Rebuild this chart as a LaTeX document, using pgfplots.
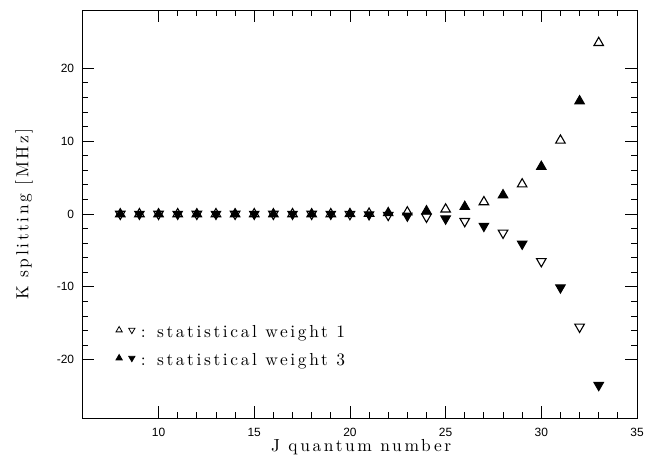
\documentclass[border=0pt]{standalone}
\usepackage{fontspec}
\newfontfamily\tickfont{Liberation Sans}
% labels: serif, widely spaced like the old plotter lettering
\newfontfamily\lblfam{lmroman10-regular}[Extension=.otf, LetterSpace=15]
\usepackage{pgfplots}
\pgfplotsset{compat=1.18}

\newcommand\lblfont{\lblfam\fontsize{17.5}{20}\selectfont}

\begin{document}
\begin{tikzpicture}
\useasboundingbox (-82bp,-48bp) rectangle (563bp,418bp);
\begin{axis}[
    scale only axis,
    width=555bp, height=408bp,
    xmin=6, xmax=35,
    ymin=-28, ymax=28,
    xtick={10,15,20,25,30,35},
    ytick={-20,-10,0,10,20},
    minor x tick num=4,
    minor y tick num=4,
    major tick length=12bp,
    minor tick length=6bp,
    tick style={black, line width=0.8bp},
    axis line style={line width=0.9bp},
    ticklabel style={font=\tickfont\fontsize{12}{14}\selectfont, inner sep=0pt},
    /pgf/number format/assume math mode=true,
    yticklabel style={xshift=-7.7bp},
    xticklabel style={yshift=-10bp},
    xlabel={J quantum number},
    ylabel={K splitting [MHz]},
    label style={font=\lblfont, inner sep=0pt},
    xlabel style={at={(axis description cs:0.503,-0.0833)}, anchor=base},
    ylabel style={at={(axis description cs:-0.0968,0.5)}, anchor=base},
    legend style={draw=none, fill=none, inner sep=0pt, outer sep=0pt,
        at={(axis description cs:0.0613,0.226)}, anchor=north west,
        row sep=12bp,
        nodes={inner sep=0pt, font=\lblfont, text height=12bp, text depth=4bp},
        /tikz/every odd column/.style={column sep=6bp}},
    legend cell align=left,
]

% legend: open = statistical weight 1, filled = statistical weight 3
\addlegendimage{black, legend image code/.code={
    \pgfsetlinewidth{0.8bp}
    \pgfsetplotmarksize{3.6bp}
    \pgftransformshift{\pgfpoint{3.1bp}{3.7bp}}
    \pgfuseplotmark{triangle}
    \pgftransformshift{\pgfpoint{12.7bp}{0bp}}
    \pgftransformrotate{180}
    \pgfuseplotmark{triangle}}}
\addlegendentry{: statistical weight 1}
\addlegendimage{black, fill=black, legend image code/.code={
    \pgfsetlinewidth{0.8bp}
    \pgfsetfillcolor{black}
    \pgfsetplotmarksize{3.6bp}
    \pgftransformshift{\pgfpoint{3.1bp}{3.7bp}}
    \pgfuseplotmark{triangle*}
    \pgftransformshift{\pgfpoint{12.7bp}{0bp}}
    \pgftransformrotate{180}
    \pgfuseplotmark{triangle*}}}
\addlegendentry{: statistical weight 3}

% weight 1, upper branch (odd J)
\addplot[only marks, forget plot, mark=triangle, mark size=5.5bp,
    mark options={black, line width=1.1bp}]
coordinates {
(9,0)(11,0)(13,0)(15,0)(17,0)(19,0)(21,0.07)(23,0.25)
(25,0.65)(27,1.65)(29,4.1)(31,10.1)(33,23.5)
};
% weight 1, lower branch (even J)
\addplot[only marks, forget plot, mark=triangle, mark size=5.5bp,
    mark options={black, line width=1.1bp, rotate=180}]
coordinates {
(8,0)(10,0)(12,0)(14,0)(16,0)(18,0)(20,-0.03)(22,-0.15)
(24,-0.4)(26,-1.0)(28,-2.6)(30,-6.5)(32,-15.5)
};
% weight 3, upper branch (even J)
\addplot[only marks, forget plot, mark=triangle*, mark size=5.5bp,
    mark options={black, fill=black, line width=1bp}]
coordinates {
(8,0)(10,0)(12,0)(14,0)(16,0)(18,0)(20,0.03)(22,0.15)
(24,0.4)(26,1.0)(28,2.6)(30,6.5)(32,15.5)
};
% weight 3, lower branch (odd J)
\addplot[only marks, forget plot, mark=triangle*, mark size=5.5bp,
    mark options={black, fill=black, line width=1bp, rotate=180}]
coordinates {
(9,0)(11,0)(13,0)(15,0)(17,0)(19,0)(21,-0.07)(23,-0.25)
(25,-0.65)(27,-1.65)(29,-4.1)(31,-10.1)(33,-23.5)
};
\end{axis}
\end{tikzpicture}
\end{document}
